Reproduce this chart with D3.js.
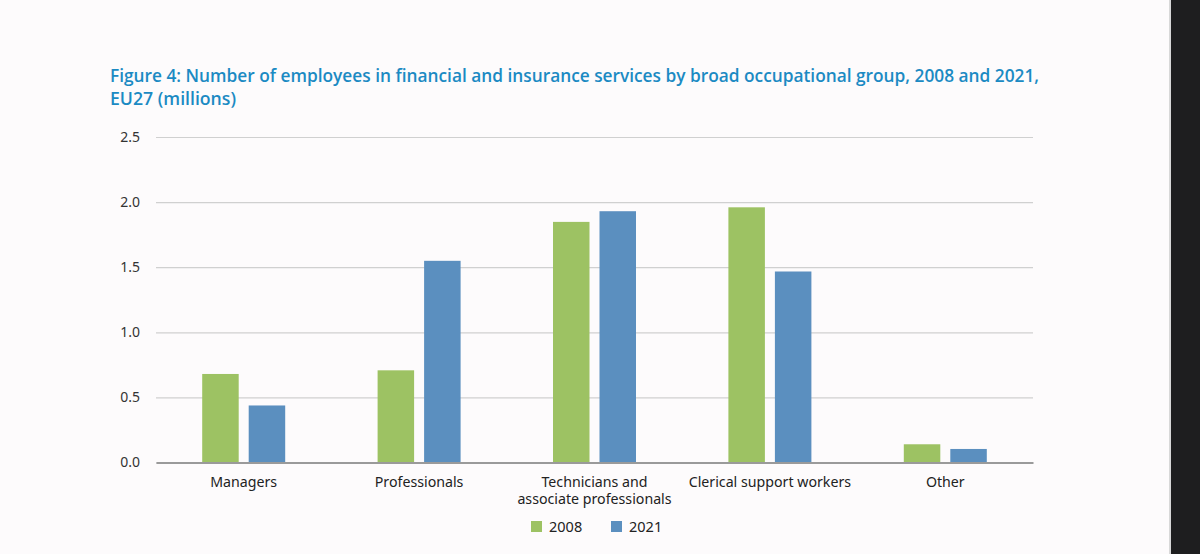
<!DOCTYPE html>
<html>
<head>
<meta charset="utf-8">
<script src="https://cdn.jsdelivr.net/npm/d3@7"></script>
<style>
  html, body { margin: 0; padding: 0; background: #fdfbfc; }
  svg { display: block; }
</style>
</head>
<body>
<svg id="chart" width="1200" height="554"></svg>
<script>
const categories = ["Managers", "Professionals", "Technicians and\nassociate professionals", "Clerical support workers", "Other"];
const seriesNames = ["2008", "2021"];
const values2008 = [0.68, 0.708, 1.848, 1.96, 0.14];
const values2021 = [0.438, 1.549, 1.93, 1.467, 0.104];
const yTicks = [0, 0.5, 1.0, 1.5, 2.0, 2.5];
const colors = ["#9dc263", "#5b8fbf"];
const titleLines = ["Figure 4: Number of employees in financial and insurance services by broad occupational group, 2008 and 2021,", "EU27 (millions)"];

const svg = d3.select("#chart");
const W = 1200, H = 554;
const margin = { left: 156, right: 1033, top: 137, bottom: 462.5 };

svg.append("rect").attr("width", W).attr("height", H).attr("fill", "#fdfbfc");
// right dark strip (screenshot viewer edge)
svg.append("rect").attr("x", 1169).attr("y", 0).attr("width", 2).attr("height", H).attr("fill", "#d8d8d8");
svg.append("rect").attr("x", 1171).attr("y", 0).attr("width", 29).attr("height", H).attr("fill", "#1e1e1f");

const x = d3.scaleBand().domain(categories).range([margin.left, margin.right]).paddingInner(0).paddingOuter(0);
const y = d3.scaleLinear().domain([0, 2.5]).range([margin.bottom, margin.top]);
const series = [values2008, values2021];
const barW = 36.5, gap = 10;

// Title
const title = svg.append("text")
  .attr("font-family", "'Open Sans', sans-serif")
  .attr("font-weight", 600)
  .attr("font-size", 18.5)
  .attr("fill", "#1b8ac3");
const titleLen = [929, 126];
titleLines.forEach((t, i) => {
  title.append("tspan").attr("x", 110).attr("y", 82 + i * 23).text(t)
    .attr("textLength", titleLen[i]).attr("lengthAdjust", "spacingAndGlyphs");
});

// Grid lines
const yAxis = d3.axisLeft(y).tickValues(yTicks).tickFormat(d3.format(".1f")).tickSize(-(margin.right - margin.left)).tickPadding(16);
const gy = svg.append("g").attr("transform", `translate(${margin.left},0)`).call(yAxis);
gy.select(".domain").remove();
gy.selectAll(".tick line").attr("stroke", "#d0d0d0").attr("stroke-width", 1.2);
gy.selectAll(".tick text")
  .attr("font-family", "'Noto Sans', sans-serif")
  .attr("font-size", 14)
  .attr("fill", "#333");

// Bars
categories.forEach((c, ci) => {
  const cx = x(c) + x.bandwidth() / 2;
  series.forEach((vals, si) => {
    const bx = si === 0 ? cx - gap / 2 - barW : cx + gap / 2;
    svg.append("rect")
      .attr("x", bx).attr("width", barW)
      .attr("y", y(vals[ci])).attr("height", y(0) - y(vals[ci]))
      .attr("fill", colors[si]);
  });
});

// X axis baseline
const xAxis = d3.axisBottom(x).tickSize(0).tickFormat("");
const gx = svg.append("g").attr("transform", `translate(0,${y(0)})`).call(xAxis);
gx.select(".domain").attr("stroke", "#9a9a9a").attr("stroke-width", 2);

// Category labels
categories.forEach((c) => {
  const cx = x(c) + x.bandwidth() / 2;
  const t = svg.append("text")
    .attr("text-anchor", "middle")
    .attr("font-family", "'Noto Sans', sans-serif")
    .attr("font-size", 14.2)
    .attr("fill", "#222");
  c.split("\n").forEach((line, li) => {
    t.append("tspan").attr("x", cx).attr("y", 487 + li * 17).text(line);
  });
});

// Legend
const legendX = [531, 611];
seriesNames.forEach((s, i) => {
  svg.append("rect").attr("x", legendX[i]).attr("y", 521).attr("width", 11).attr("height", 11).attr("fill", colors[i]);
  svg.append("text").attr("x", legendX[i] + 18).attr("y", 532)
    .attr("font-family", "'Noto Sans', sans-serif").attr("font-size", 14.5).attr("fill", "#222").text(s);
});
</script>
</body>
</html>
